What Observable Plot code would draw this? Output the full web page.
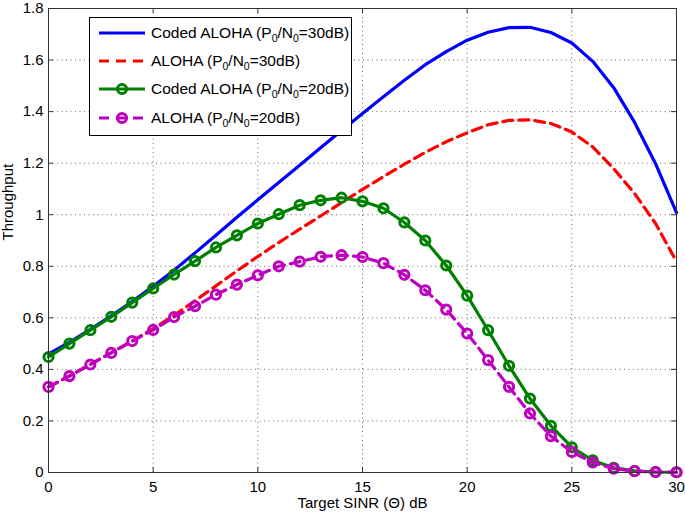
<!DOCTYPE html>
<html>
<head>
<meta charset="utf-8">
<script src="https://cdn.jsdelivr.net/npm/d3@7"></script>
<script src="https://cdn.jsdelivr.net/npm/@observablehq/plot@0.6"></script>
<style>
  body { margin: 0; background: #fff; }
  #wrap { position: relative; width: 685px; height: 514px; font-family: "Liberation Sans", Arial, sans-serif; }
  #legend { position: absolute; left: 89px; top: 17px; width: 263px; height: 119px; border: 1px solid #000; background: #fff; box-sizing: border-box; }
  .row { position: absolute; left: 8px; height: 20px; display: flex; align-items: center; font-size: 15.5px; color: #000; white-space: nowrap; }
  .row svg { margin-right: 5px; }
  sub { font-size: 10.5px; vertical-align: -4px; line-height: 0; }
</style>
</head>
<body>
<div id="wrap"></div>
<script>
// Target SINR (dB)
const sinr = [0,1,2,3,4,5,6,7,8,9,10,11,12,13,14,15,16,17,18,19,20,21,22,23,24,25,26,27,28,29,30];
// Coded ALOHA (P0/N0 = 30 dB)
const codedAloha30 = [0.46,0.505,0.555,0.608,0.663,0.722,0.785,0.852,0.92,0.99,1.058,1.125,1.192,1.26,1.327,1.393,1.458,1.522,1.582,1.633,1.677,1.708,1.726,1.727,1.707,1.666,1.595,1.493,1.358,1.198,1.008];
// ALOHA (P0/N0 = 30 dB)
const aloha30 = [0.332,0.375,0.42,0.465,0.51,0.558,0.61,0.666,0.724,0.782,0.838,0.892,0.944,0.995,1.047,1.098,1.148,1.196,1.242,1.283,1.318,1.349,1.366,1.368,1.354,1.321,1.263,1.179,1.082,0.966,0.818];
// Coded ALOHA (P0/N0 = 20 dB)
const codedAloha20 = [0.448,0.5,0.552,0.604,0.659,0.714,0.768,0.82,0.873,0.92,0.966,1.002,1.037,1.056,1.066,1.052,1.025,0.97,0.9,0.803,0.686,0.552,0.414,0.287,0.181,0.098,0.047,0.018,0.006,0.002,0.001];
// ALOHA (P0/N0 = 20 dB)
const aloha20 = [0.332,0.374,0.419,0.464,0.51,0.553,0.603,0.645,0.69,0.729,0.765,0.8,0.818,0.837,0.843,0.836,0.812,0.767,0.707,0.632,0.539,0.436,0.332,0.229,0.141,0.08,0.039,0.015,0.005,0.002,0.001];

const xTicks = [0,5,10,15,20,25,30];
const yTicks = [0,0.2,0.4,0.6,0.8,1,1.2,1.4,1.6,1.8];
const yTickLabels = ["0","0.2","0.4","0.6","0.8","1","1.2","1.4","1.6","1.8"];

const seriesNames = [
  "Coded ALOHA (P0/N0=30dB)",
  "ALOHA (P0/N0=30dB)",
  "Coded ALOHA (P0/N0=20dB)",
  "ALOHA (P0/N0=20dB)"
];
const colors = ["#0000ff", "#ff0000", "#008000", "#bf00bf"];

const toRows = (vals) => sinr.map((x, i) => ({x, y: vals[i]}));
const dBlue = toRows(codedAloha30);
const dRed = toRows(aloha30);
const dGreen = toRows(codedAloha20);
const dMag = toRows(aloha20);

const W = 685, H = 514;
const mt = 8, mb = 42, ml = 48, mr = 9;
const innerH = H - mt - mb, innerW = W - ml - mr;

const chart = Plot.plot({
  width: W,
  height: H,
  marginTop: mt,
  marginBottom: mb,
  marginLeft: ml,
  marginRight: mr,
  style: { fontFamily: "Liberation Sans, Arial, sans-serif", fontSize: "14px", color: "#000", background: "#fff" },
  x: { domain: [0, 30], label: null },
  y: { domain: [0, 1.8], label: null },
  marks: [
    // dotted grid
    Plot.ruleX(xTicks.slice(1, -1), { stroke: "#666", strokeWidth: 1, strokeDasharray: "1,3.5" }),
    Plot.ruleY(yTicks.slice(1, -1), { stroke: "#666", strokeWidth: 1, strokeDasharray: "1,3.5" }),
    // inward ticks on all sides
    Plot.tickX(xTicks, { x: d => d, insetTop: innerH - 5, stroke: "#333" }),
    Plot.tickX(xTicks, { x: d => d, insetBottom: innerH - 5, stroke: "#333" }),
    Plot.tickY(yTicks, { y: d => d, insetRight: innerW - 5, stroke: "#333" }),
    Plot.tickY(yTicks, { y: d => d, insetLeft: innerW - 5, stroke: "#333" }),
    // tick labels
    Plot.axisX(xTicks, { anchor: "bottom", tickSize: 0, tickPadding: 9, tickFormat: d => String(d), fontSize: 15 }),
    Plot.axisY(yTicks, { anchor: "left", tickSize: 0, tickPadding: 5, tickFormat: (d, i) => yTickLabels[i], fontSize: 15 }),
    // series
    Plot.line(dBlue, { x: "x", y: "y", stroke: colors[0], strokeWidth: 3.2 }),
    Plot.line(dRed, { x: "x", y: "y", stroke: colors[1], strokeWidth: 3.2, strokeDasharray: "10,6" }),
    Plot.line(dGreen, { x: "x", y: "y", stroke: colors[2], strokeWidth: 3.2 }),
    Plot.dot(dGreen, { x: "x", y: "y", stroke: colors[2], strokeWidth: 3, r: 4.6, fill: "none" }),
    Plot.line(dMag, { x: "x", y: "y", stroke: colors[3], strokeWidth: 3.2, strokeDasharray: "10,6" }),
    Plot.dot(dMag, { x: "x", y: "y", stroke: colors[3], strokeWidth: 3, r: 4.6, fill: "none" }),
    Plot.frame({ stroke: "#333", strokeWidth: 1 }),
    // axis titles
    Plot.text(["Target SINR (\u0398) dB"], { frameAnchor: "bottom", dy: 31, lineAnchor: "middle", fontSize: 15, fill: "#000" }),
    Plot.text(["Throughput"], { frameAnchor: "left", dx: -40, rotate: -90, fontSize: 15, fill: "#000" })
  ]
});

const wrap = document.getElementById("wrap");
wrap.appendChild(chart);

// Legend (HTML overlay inside the axes)
const legend = document.createElement("div");
legend.id = "legend";
const rowTops = [5, 33, 61, 90];
const labelHTML = [
  "Coded ALOHA (P<sub>0</sub>/N<sub>0</sub>=30dB)",
  "ALOHA (P<sub>0</sub>/N<sub>0</sub>=30dB)",
  "Coded ALOHA (P<sub>0</sub>/N<sub>0</sub>=20dB)",
  "ALOHA (P<sub>0</sub>/N<sub>0</sub>=20dB)"
];
const swatch = [
  `<line x1="1" x2="47" y1="10" y2="10" stroke="${colors[0]}" stroke-width="3.2"/>`,
  `<line x1="1" x2="47" y1="10" y2="10" stroke="${colors[1]}" stroke-width="3.2" stroke-dasharray="10,7"/>`,
  `<line x1="1" x2="47" y1="10" y2="10" stroke="${colors[2]}" stroke-width="3.2"/><circle cx="24" cy="10" r="4.6" fill="none" stroke="${colors[2]}" stroke-width="3"/>`,
  `<line x1="1" x2="47" y1="10" y2="10" stroke="${colors[3]}" stroke-width="3.2" stroke-dasharray="10,7"/><circle cx="24" cy="10" r="4.6" fill="none" stroke="${colors[3]}" stroke-width="3"/>`
];
seriesNames.forEach((name, i) => {
  const row = document.createElement("div");
  row.className = "row";
  row.style.top = rowTops[i] + "px";
  row.innerHTML = `<svg width="48" height="20">${swatch[i]}</svg><span>${labelHTML[i]}</span>`;
  row.title = name;
  legend.appendChild(row);
});
wrap.appendChild(legend);
</script>
</body>
</html>
